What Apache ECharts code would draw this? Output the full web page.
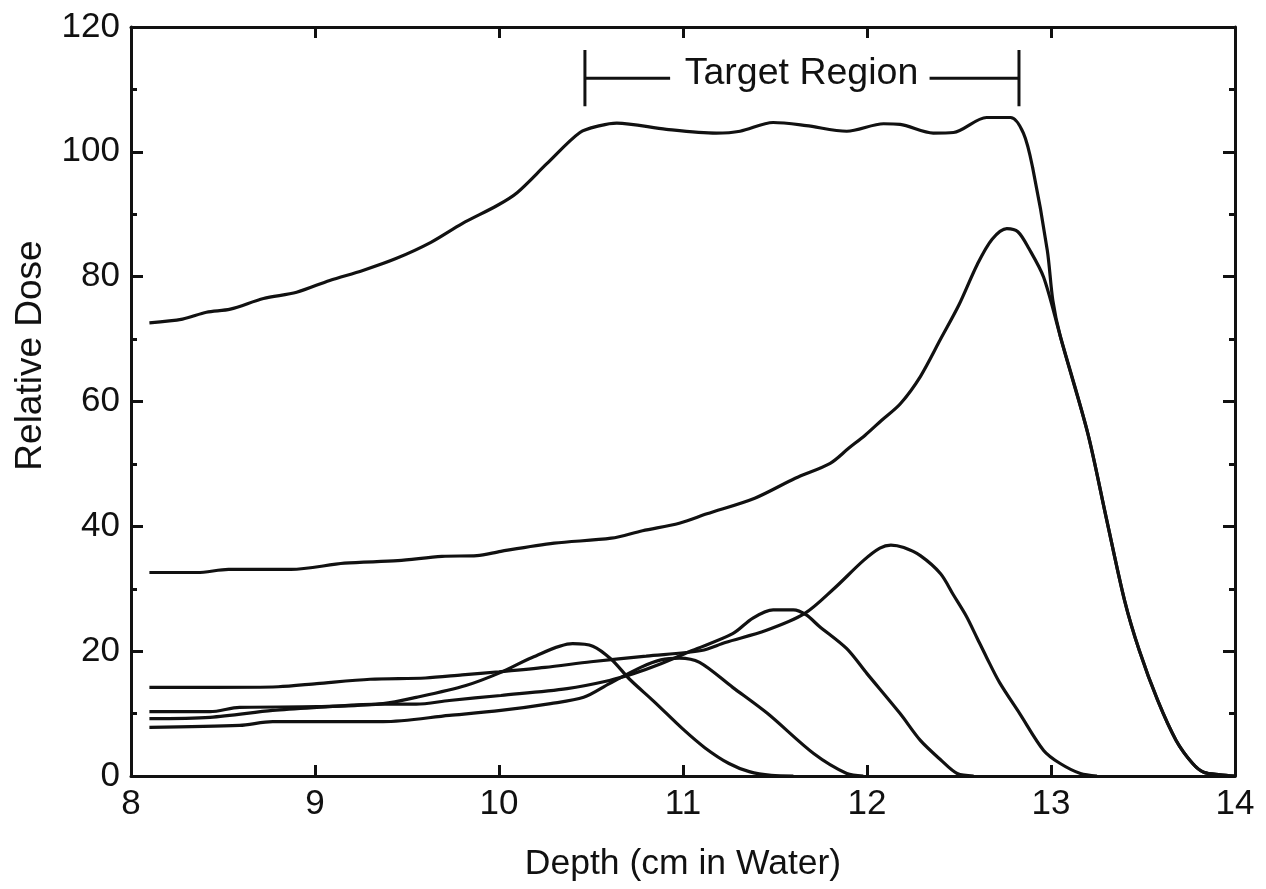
<!DOCTYPE html>
<html>
<head>
<meta charset="utf-8">
<script src="https://cdn.jsdelivr.net/npm/echarts@6/dist/echarts.min.js"></script>
<style>
html,body{margin:0;padding:0;background:#fff;}
#chart{width:1266px;height:889px;}
</style>
</head>
<body>
<div id="chart"></div>
<script>
// ---- Data (depth in cm, relative dose) ----
const xTicks = [8, 9, 10, 11, 12, 13, 14];
const yTicks = [0, 20, 40, 60, 80, 100, 120];

const sobp = [[8.10,72.6],[8.28,73.2],[8.41,74.3],[8.54,74.8],[8.72,76.5],[8.90,77.5],[9.08,79.4],[9.26,81.0],[9.44,82.9],[9.63,85.5],[9.80,88.5],[9.99,91.4],[10.10,93.5],[10.26,98.1],[10.44,103.1],[10.55,104.2],[10.64,104.6],[10.91,103.6],[11.18,103.0],[11.31,103.3],[11.49,104.7],[11.67,104.2],[11.89,103.3],[12.09,104.5],[12.18,104.4],[12.36,103.0],[12.47,103.1],[12.65,105.5],[12.78,105.5],[12.85,103.0],[12.90,97.5],[12.98,84.2],[13.01,76.2],[13.05,70.5],[13.20,54.9],[13.30,41.4],[13.40,28.1],[13.48,20.1],[13.58,12.1],[13.68,5.7],[13.77,2.0],[13.83,0.6],[13.92,0.2],[14.0,0]];

const peak1 = [[8.10,32.6],[8.36,32.6],[8.53,33.1],[8.87,33.1],[9.16,34.1],[9.45,34.5],[9.69,35.2],[9.88,35.3],[10.01,36.0],[10.30,37.3],[10.61,38.1],[10.78,39.3],[10.98,40.5],[11.13,42.0],[11.39,44.5],[11.61,47.7],[11.80,50.1],[11.90,52.5],[11.99,54.6],[12.08,57.0],[12.18,59.6],[12.29,64.0],[12.40,70.0],[12.50,75.5],[12.60,82.0],[12.68,86.0],[12.76,87.7],[12.82,87.2],[12.88,84.5],[12.96,79.9],[13.05,70.5],[13.20,54.9],[13.30,41.4],[13.40,28.1],[13.48,20.1],[13.58,12.1],[13.68,5.7],[13.77,2.0],[13.83,0.6],[13.92,0.2],[14.0,0]];

const peak2 = [[8.10,14.2],[8.45,14.2],[8.80,14.3],[9.01,14.8],[9.30,15.5],[9.60,15.7],[9.80,16.2],[10.0,16.7],[10.25,17.4],[10.5,18.3],[10.8,19.2],[11.1,20.1],[11.23,21.4],[11.45,23.3],[11.66,26.0],[11.82,30.0],[11.98,34.5],[12.07,36.5],[12.13,37.0],[12.20,36.6],[12.29,35.3],[12.40,32.4],[12.47,29.0],[12.54,25.6],[12.60,22.0],[12.65,19.0],[12.72,15.0],[12.83,10.0],[12.96,4.1],[13.05,2.0],[13.16,0.4],[13.25,0]];

const peak3 = [[8.10,10.3],[8.43,10.3],[8.59,11.0],[9.01,11.1],[9.37,11.5],[9.55,11.5],[9.73,12.1],[10.01,12.9],[10.37,14.0],[10.60,15.3],[10.73,16.4],[10.88,18.0],[11.05,20.1],[11.27,22.8],[11.38,25.3],[11.49,26.6],[11.60,26.6],[11.67,25.8],[11.74,24.0],[11.89,20.4],[12.00,16.4],[12.18,10.0],[12.29,5.7],[12.40,2.6],[12.49,0.4],[12.58,0]];

const peak4 = [[8.10,7.8],[8.59,8.1],[8.77,8.7],[9.37,8.7],[9.73,9.7],[10.01,10.5],[10.28,11.6],[10.46,12.6],[10.60,14.8],[10.77,17.4],[10.88,18.6],[10.98,18.9],[11.09,18.2],[11.27,14.2],[11.46,10.0],[11.71,3.6],[11.89,0.4],[11.98,0]];

const peak5 = [[8.10,9.2],[8.43,9.4],[8.77,10.5],[9.01,11.0],[9.37,11.6],[9.55,12.6],[9.82,14.5],[10.01,16.6],[10.18,19.0],[10.40,21.2],[10.51,20.8],[10.61,18.7],[10.71,15.5],[10.84,12.0],[11.00,7.5],[11.12,4.5],[11.25,2.0],[11.36,0.7],[11.48,0.1],[11.6,0]];

// Target region annotation (depth range and bracket heights)
const targetStart = 10.467;
const targetEnd = 12.826;
const bracketY = 111.8;
const bracketLow = 107.3;
const bracketHigh = 116.3;
const leftDashEnd = 10.93;
const rightDashStart = 12.34;
const targetLabel = 'Target Region';
const targetLabelPos = [11.644, 112.6];

const xName = 'Depth (cm in Water)';
const yName = 'Relative Dose';

// ---- Chart ----
const INK = '#111';
const FONT = '"Liberation Sans", Arial, Helvetica, sans-serif';
const chart = echarts.init(document.getElementById('chart'), null, {renderer: 'canvas'});

function curve(data) {
  return {
    type: 'line', data: data, xAxisIndex: 0, yAxisIndex: 0,
    showSymbol: false, symbol: 'none', smooth: 0.3,
    lineStyle: {color: INK, width: 3.2}, silent: true, animation: false, z: 3
  };
}
function seg(data) {
  return {
    type: 'line', data: data, xAxisIndex: 0, yAxisIndex: 0,
    showSymbol: false, symbol: 'none', smooth: false,
    lineStyle: {color: INK, width: 3}, silent: true, animation: false, z: 3
  };
}

const commonX = {
  type: 'value', min: xTicks[0], max: xTicks[xTicks.length - 1], interval: 1,
  axisLine: {show: true, onZero: false, lineStyle: {color: INK, width: 3}},
  axisTick: {show: true, inside: true, length: 11, lineStyle: {color: INK, width: 3}},
  splitLine: {show: false}
};
const commonY = {
  type: 'value', min: yTicks[0], max: yTicks[yTicks.length - 1], interval: 20,
  axisLine: {show: true, onZero: false, lineStyle: {color: INK, width: 3}},
  axisTick: {show: true, inside: true, length: 12, lineStyle: {color: INK, width: 3}},
  minorTick: {show: true, splitNumber: 2, length: 6, lineStyle: {color: INK, width: 3}},
  splitLine: {show: false}, minorSplitLine: {show: false}
};

chart.setOption({
  backgroundColor: '#fff',
  animation: false,
  grid: {left: 131, right: 31, top: 27, bottom: 113, containLabel: false},
  xAxis: [
    Object.assign({}, commonX, {
      position: 'bottom',
      axisLabel: {show: true, color: INK, fontSize: 35, fontFamily: FONT, margin: 11},
      name: xName, nameLocation: 'middle', nameGap: 70,
      nameTextStyle: {color: INK, fontSize: 35.5, fontFamily: FONT}
    }),
    Object.assign({}, commonX, {position: 'top', axisLabel: {show: false}})
  ],
  yAxis: [
    Object.assign({}, commonY, {
      position: 'left',
      axisLabel: {show: true, color: INK, fontSize: 35, fontFamily: FONT, margin: 11},
      name: yName, nameLocation: 'middle', nameGap: 82, nameRotate: 90,
      nameTextStyle: {color: INK, fontSize: 37, fontFamily: FONT, padding: [0, 0, 0, 92]}
    }),
    Object.assign({}, commonY, {position: 'right', axisLabel: {show: false}})
  ],
  series: [
    curve(sobp), curve(peak1), curve(peak2), curve(peak3), curve(peak4), curve(peak5),
    seg([[targetStart, bracketLow], [targetStart, bracketHigh]]),
    seg([[targetStart, bracketY], [leftDashEnd, bracketY]]),
    seg([[rightDashStart, bracketY], [targetEnd, bracketY]]),
    seg([[targetEnd, bracketLow], [targetEnd, bracketHigh]]),
    {
      type: 'scatter', data: [targetLabelPos], symbolSize: 0, silent: true, animation: false,
      itemStyle: {opacity: 1},
      label: {show: true, position: 'inside', formatter: targetLabel, color: INK, opacity: 1,
              fontSize: 37.5, fontFamily: FONT}
    }
  ]
});
</script>
</body>
</html>
